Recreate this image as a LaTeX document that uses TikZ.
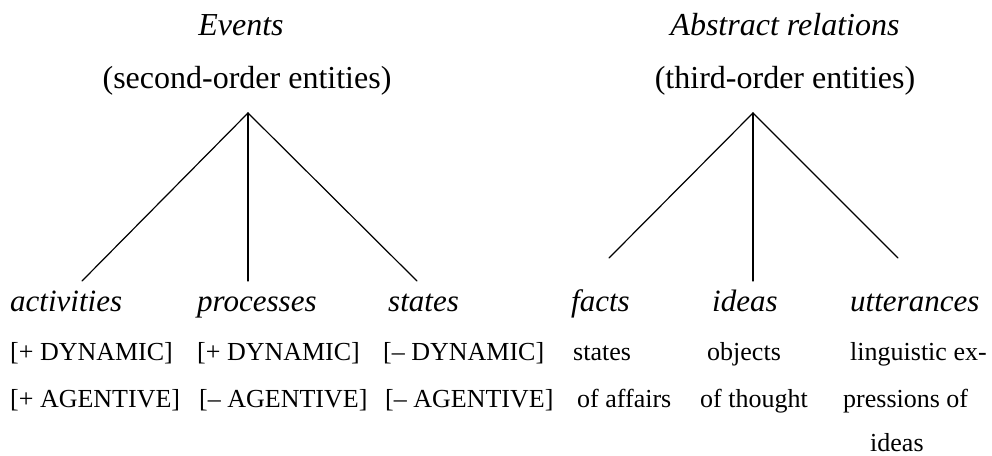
\documentclass[tikz,border=0pt]{standalone}
\usepackage{fontspec}
\setmainfont{Liberation Serif}
\begin{document}
\begin{tikzpicture}[x=1pt,y=-1pt,
  big/.style={inner sep=0pt,font=\fontsize{32}{38}\selectfont},
  bigit/.style={inner sep=0pt,font=\fontsize{32}{38}\selectfont\itshape},
  lbl/.style={inner sep=0pt,anchor=base west,font=\fontsize{31}{36}\selectfont\itshape},
  feat/.style={inner sep=0pt,anchor=base west,font=\fontsize{26}{30}\selectfont},
  branch/.style={line width=1.2pt,line cap=round}]
\useasboundingbox (0,0) rectangle (992,455);
% titles
\node[bigit,anchor=base] (ev) at (241,35) {Events};
\node[big,anchor=base] (ev2) at (247,88) {(second-order entities)};
\node[bigit,anchor=base] (ab) at (785,35) {Abstract relations};
\node[big,anchor=base] (ab2) at (785,88) {(third-order entities)};
% apexes and branch ends
\coordinate (L0) at (248,113);
\coordinate (L1) at (82,281);
\coordinate (L2) at (248,281);
\coordinate (L3) at (417,281);
\coordinate (R0) at (753,113);
\coordinate (R1) at (609,258);
\coordinate (R2) at (753,281);
\coordinate (R3) at (898,258);
\draw[branch] (L1) -- (L0) -- (L3);
\draw[branch] (L0) -- (L2);
\draw[branch] (R1) -- (R0) -- (R3);
\draw[branch] (R0) -- (R2);
% labels
\node[lbl] (act) at (10,311) {activities};
\node[lbl] (pro) at (197,311) {processes};
\node[lbl] (sta) at (388,311) {states};
\node[lbl] (fac) at (571,311) {facts};
\node[lbl] (ide) at (712,311) {ideas};
\node[lbl] (utt) at (850,311) {utterances};
% features
\node[feat] (a1) at (10,360) {[+ DYNAMIC]};
\node[feat] (a2) at (10,407) {[+ AGENTIVE]};
\node[feat] (p1) at (197,360) {[+ DYNAMIC]};
\node[feat] (p2) at (199,407) {[– AGENTIVE]};
\node[feat] (s1) at (383,360) {[– DYNAMIC]};
\node[feat] (s2) at (385,407) {[– AGENTIVE]};
\node[feat] (f1) at (573,360) {states};
\node[feat] (f2) at (577,407) {of affairs};
\node[feat] (i1) at (707,360) {objects};
\node[feat] (i2) at (700,407) {of thought};
\node[feat] (u1) at (850,360) {linguistic ex-};
\node[feat] (u2) at (843,407) {pressions of};
\node[feat] (u3) at (870,451) {ideas};
\end{tikzpicture}
\end{document}
